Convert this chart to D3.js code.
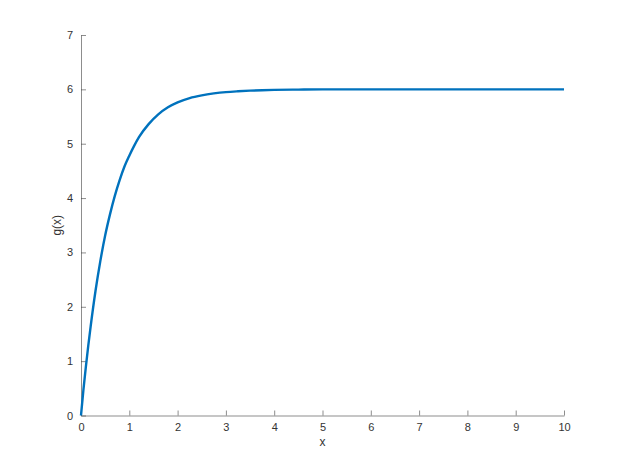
<!DOCTYPE html>
<html>
<head>
<meta charset="utf-8">
<script src="https://cdn.jsdelivr.net/npm/d3@7"></script>
<style>
  html, body { margin: 0; padding: 0; background: #fff; }
  svg { display: block; }
  text { font-family: "Liberation Sans", Arial, Helvetica, sans-serif; }
</style>
</head>
<body>
<script>
// Data
const xValues = [0, 0.05, 0.1, 0.15, 0.2, 0.3, 0.4, 0.5, 0.6, 0.7, 0.8, 0.9, 1.0, 1.1, 1.2, 1.4, 1.6, 1.8, 2.0, 2.25, 2.5, 2.75, 3.0, 3.25, 3.5, 3.75, 4.0, 4.5, 5.0, 6.0, 7.0, 8.0, 9.0, 10.0];
const gValues = [0, 0.47, 0.89, 1.28, 1.64, 2.29, 2.84, 3.31, 3.70, 4.04, 4.33, 4.58, 4.78, 4.96, 5.12, 5.36, 5.54, 5.67, 5.76, 5.84, 5.89, 5.925, 5.95, 5.965, 5.976, 5.984, 5.99, 5.996, 6.0, 6.0, 6.0, 6.0, 6.0, 6.0];
const xTicks = [0, 1, 2, 3, 4, 5, 6, 7, 8, 9, 10];
const yTicks = [0, 1, 2, 3, 4, 5, 6, 7];
const xLabel = "x";
const yLabel = "g(x)";

const W = 623, H = 467;
const margin = { left: 81, right: 623 - 564, top: 35, bottom: 467 - 415.5 };

const svg = d3.select("body").append("svg").attr("width", W).attr("height", H);

const x = d3.scaleLinear().domain([0, 10]).range([margin.left, W - margin.right]);
const y = d3.scaleLinear().domain([0, 7]).range([H - margin.bottom, margin.top]);

const axisColor = "#404040";
const textColor = "#333333";
const tickLen = 5;

// X axis
const xAxis = svg.append("g")
  .attr("transform", `translate(0,${y(0)})`)
  .call(d3.axisBottom(x).tickValues(xTicks).tickFormat(d3.format("d")).tickSizeInner(-tickLen).tickSizeOuter(0).tickPadding(8));
// Y axis
const yAxis = svg.append("g")
  .attr("transform", `translate(${x(0)},0)`)
  .call(d3.axisLeft(y).tickValues(yTicks).tickFormat(d3.format("d")).tickSizeInner(-tickLen).tickSizeOuter(0).tickPadding(8));

[xAxis, yAxis].forEach(a => {
  a.select(".domain").attr("stroke", axisColor).attr("stroke-width", 0.6);
  a.selectAll(".tick line").attr("stroke", axisColor).attr("stroke-width", 0.6);
  a.selectAll(".tick text").attr("fill", textColor).style("font-size", "11px")
    .style("font-family", "'Liberation Sans', Arial, Helvetica, sans-serif");
});

// Line
const data = xValues.map((v, i) => ({ x: v, y: gValues[i] }));
svg.append("path")
  .datum(data)
  .attr("fill", "none")
  .attr("stroke", "#0072BD")
  .attr("stroke-width", 2.4)
  .attr("stroke-linejoin", "round")
  .attr("d", d3.line().x(d => x(d.x)).y(d => y(d.y)).curve(d3.curveMonotoneX));

// Axis labels
svg.append("text")
  .attr("x", (x(0) + x(10)) / 2)
  .attr("y", 446)
  .attr("text-anchor", "middle")
  .attr("fill", textColor)
  .style("font-size", "12px")
  .text(xLabel);

svg.append("text")
  .attr("transform", `translate(61,${(y(0) + y(7)) / 2}) rotate(-90)`)
  .attr("text-anchor", "middle")
  .attr("fill", textColor)
  .style("font-size", "12px")
  .text(yLabel);
</script>
</body>
</html>
